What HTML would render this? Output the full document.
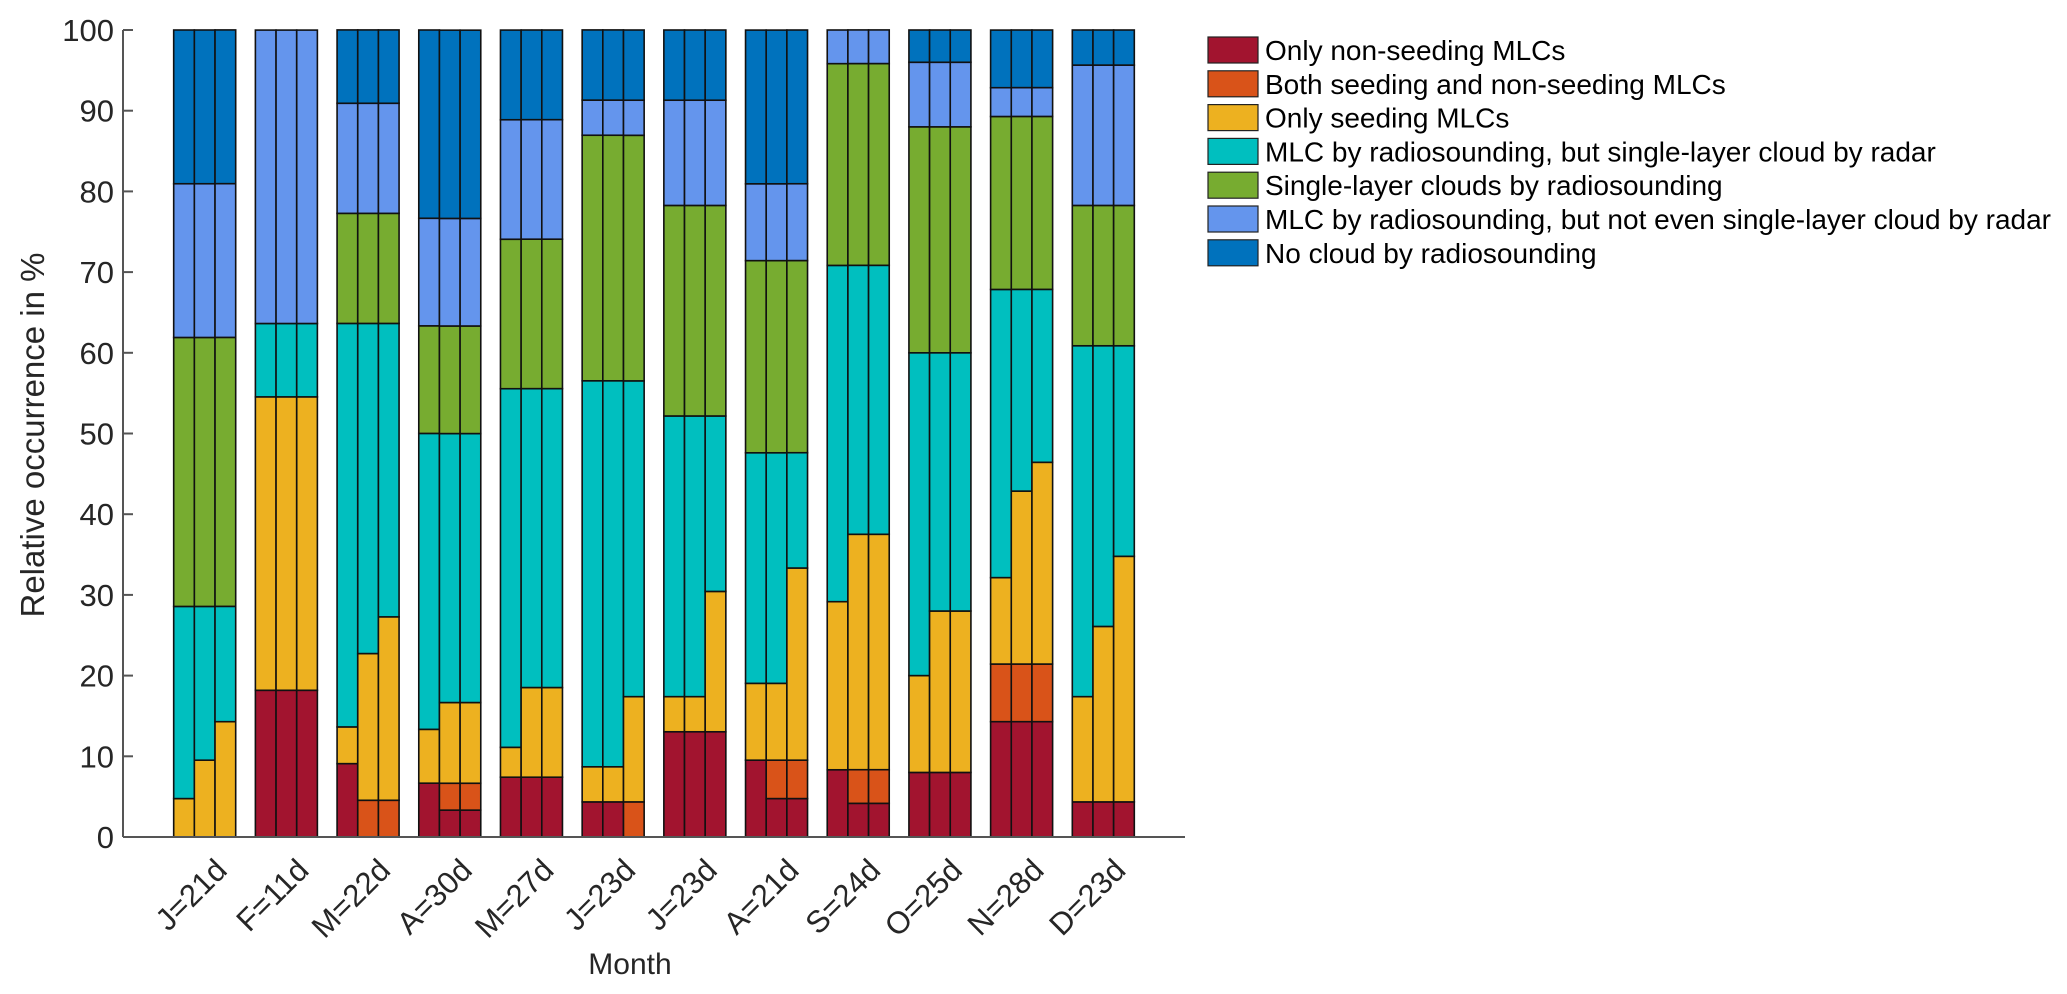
<!DOCTYPE html>
<html><head><meta charset="utf-8"><style>
html,body{margin:0;padding:0;background:#fff;}
svg{display:block;font-family:"Liberation Sans",Arial,sans-serif;}
</style></head><body>
<svg id="chart" width="2067" height="994" viewBox="0 0 2067 994" xmlns="http://www.w3.org/2000/svg">
<g id="bars"></g>
<g id="axes"></g>
<g id="legend"></g>
<text x="0" y="0" transform="translate(44,435) rotate(-90)" text-anchor="middle" font-size="33" fill="#262626">Relative occurrence in %</text>
<text x="630" y="974" text-anchor="middle" font-size="30" fill="#262626">Month</text>
</svg>
<script>
const months = ["J=21d","F=11d","M=22d","A=30d","M=27d","J=23d","J=23d","A=21d","S=24d","O=25d","N=28d","D=23d"];
// per sub-bar (3 per month)
const onlyNonSeeding = [0,0,0, 18.18,18.18,18.18, 9.09,0,0, 6.67,3.33,3.33, 7.41,7.41,7.41, 4.35,4.35,0, 13.04,13.04,13.04, 9.52,4.76,4.76, 8.33,4.17,4.17, 8,8,8, 14.29,14.29,14.29, 4.35,4.35,4.35];
const bothSeeding = [0,0,0, 0,0,0, 0,4.55,4.55, 0,3.33,3.33, 0,0,0, 0,0,4.35, 0,0,0, 0,4.76,4.76, 0,4.17,4.17, 0,0,0, 7.14,7.14,7.14, 0,0,0];
const onlySeeding = [4.76,9.52,14.29, 36.36,36.36,36.36, 4.55,18.18,22.73, 6.67,10,10, 3.70,11.11,11.11, 4.35,4.35,13.04, 4.35,4.35,17.39, 9.52,9.52,23.81, 20.83,29.17,29.17, 12,20,20, 10.71,21.43,25, 13.04,21.74,30.43];
const mlcSingleRadar = [23.81,19.05,14.29, 9.09,9.09,9.09, 50,40.91,36.36, 36.67,33.33,33.33, 44.44,37.04,37.04, 47.83,47.83,39.13, 34.78,34.78,21.74, 28.57,28.57,14.29, 41.67,33.33,33.33, 40,32,32, 35.71,25,21.43, 43.48,34.78,26.09];
// per month
const singleLayer = [33.33,0,13.64,13.33,18.52,30.43,26.09,23.81,25,28,21.43,17.39];
const mlcNoRadar = [19.05,36.36,13.64,13.33,14.81,4.35,13.04,9.52,4.17,8,3.57,17.39];
const noCloud = [19.05,0,9.09,23.33,11.11,8.70,8.70,19.05,0,4,7.14,4.35];
const yTicks = [0,10,20,30,40,50,60,70,80,90,100];
const legendLabels = ["Only non-seeding MLCs","Both seeding and non-seeding MLCs","Only seeding MLCs","MLC by radiosounding, but single-layer cloud by radar","Single-layer clouds by radiosounding","MLC by radiosounding, but not even single-layer cloud by radar","No cloud by radiosounding"];

const colors = ["#A2142F","#D95319","#EDB120","#00BFBF","#77AC30","#6495ED","#0072BD"];
const NS = "http://www.w3.org/2000/svg";
const X0=123, X1=1185, Y0=837, Y1=30;
const xScale = i => X0 + (X1-X0)*(i+1)/13;
const yScale = v => Y0 - (Y0-Y1)*v/100;
const groupW = 62, subW = groupW/3;
function mk(tag, attrs, parent){const e=document.createElementNS(NS,tag);for(const k in attrs)e.setAttribute(k,attrs[k]);parent.appendChild(e);return e;}
const bars=document.getElementById('bars'), axes=document.getElementById('axes'), legend=document.getElementById('legend');
const keys=["only-non-seeding","both-seeding","only-seeding","mlc-single-radar","single-layer","mlc-no-radar","no-cloud"];
months.forEach((m,mi)=>{
  const cx=xScale(mi);
  for(let s=0;s<3;s++){
    const k=mi*3+s;
    const vals=[onlyNonSeeding[k],bothSeeding[k],onlySeeding[k],mlcSingleRadar[k],singleLayer[mi],mlcNoRadar[mi],noCloud[mi]];
    let cum=0;
    const x=cx-groupW/2+s*subW;
    vals.forEach((v,ci)=>{
      if(v<=0){return;}
      const y0=yScale(cum), y1=yScale(cum+v);
      const r=mk('rect',{x:x,y:y1,width:subW,height:y0-y1,fill:colors[ci],stroke:"#111",'stroke-width':1.6},bars);
      
      
      cum+=v;
    });
  }
  const t=mk('text',{transform:`translate(${cx+24},${872}) rotate(-45)`,'text-anchor':'end','font-size':31,fill:'#262626'},axes);
  t.textContent=m;
  
  
});
const yl=mk('line',{x1:X0,y1:Y1,x2:X0,y2:Y0,stroke:'#555','stroke-width':2},axes);


const xl=mk('line',{x1:X0,y1:Y0,x2:X1,y2:Y0,stroke:'#555','stroke-width':2},axes);


yTicks.forEach(v=>{
  const y=yScale(v);
  const tk=mk('line',{x1:X0,y1:y,x2:X0+10,y2:y,stroke:'#555','stroke-width':2},axes);
  
  
  const t=mk('text',{x:114,y:y+11,'text-anchor':'end','font-size':31,fill:'#262626'},axes);
  t.textContent=v;
  
  
});
legendLabels.forEach((lab,i)=>{
  const y=50+i*33.8;
  const r=mk('rect',{x:1208,y:y-13,width:50,height:26,fill:colors[i],stroke:'#222','stroke-width':1.2},legend);
  
  
  const t=mk('text',{x:1265,y:y+10,'font-size':28,fill:'#000'},legend);
  t.textContent=lab;
  
  
});
</script>
</body></html>
